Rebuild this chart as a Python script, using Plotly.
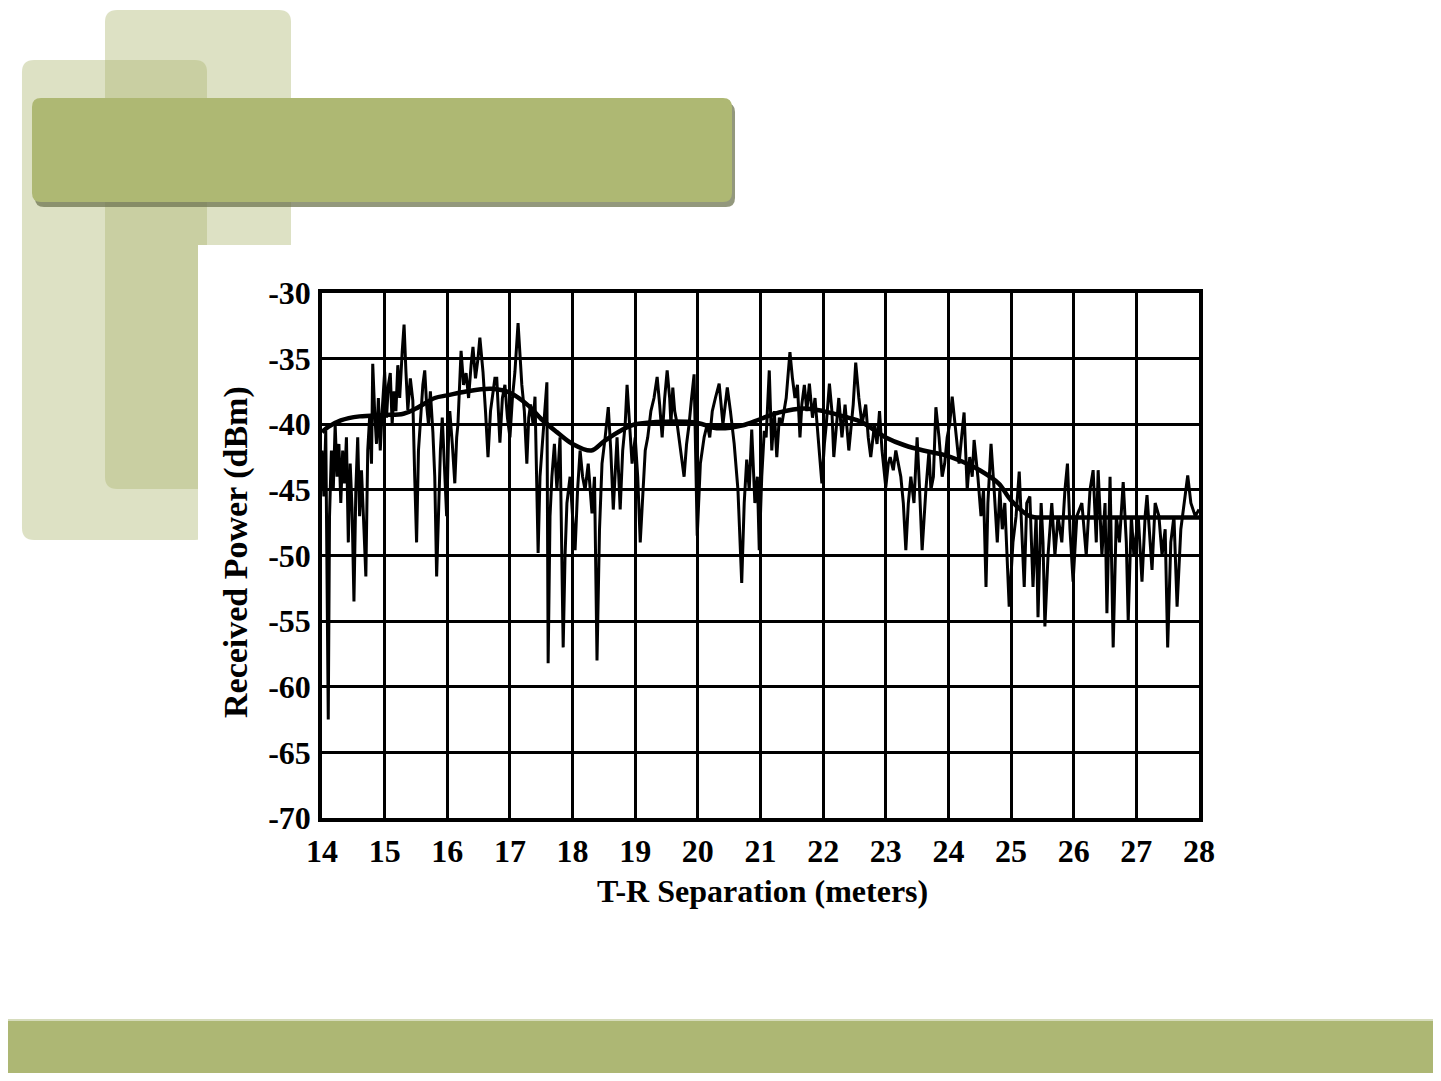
import plotly.graph_objects as go

# ---------------- data ----------------
sep_m = [
    14.00, 14.03, 14.06, 14.08, 14.10, 14.12, 14.15, 14.18, 14.21, 14.24, 14.27, 14.30, 14.33, 14.36, 14.39,
    14.42, 14.45, 14.48, 14.51, 14.54, 14.57, 14.60, 14.63, 14.67, 14.70, 14.73, 14.76, 14.79, 14.81, 14.84,
    14.87, 14.90, 14.93, 14.96, 15.00, 15.03, 15.06, 15.09, 15.12, 15.15, 15.18, 15.21, 15.24, 15.28, 15.31,
    15.34, 15.37, 15.41, 15.45, 15.48, 15.51, 15.54, 15.58, 15.61, 15.64, 15.67, 15.70, 15.73, 15.77, 15.80,
    15.83, 15.86, 15.89, 15.92, 15.96, 15.99, 16.02, 16.04, 16.08, 16.12, 16.15, 16.17, 16.22, 16.26, 16.30,
    16.34, 16.38, 16.41, 16.45, 16.49, 16.52, 16.57, 16.61, 16.65, 16.69, 16.73, 16.76, 16.79,
    16.84, 16.88, 16.92, 16.96, 17.00, 17.04, 17.08, 17.13, 17.16, 17.19, 17.23, 17.27, 17.30, 17.33, 17.37,
    17.40, 17.45, 17.48, 17.51, 17.55, 17.59, 17.61, 17.64, 17.67, 17.71, 17.75, 17.80, 17.85, 17.88, 17.91,
    17.96, 18.00, 18.04, 18.08, 18.12, 18.16, 18.20, 18.25, 18.31, 18.35, 18.39, 18.43, 18.47, 18.52, 18.57,
    18.61, 18.65, 18.71, 18.76, 18.80, 18.84, 18.87, 18.91, 18.95, 19.00, 19.04, 19.08, 19.12, 19.16, 19.20,
    19.25, 19.30, 19.35, 19.39, 19.43, 19.47, 19.51, 19.55, 19.57, 19.60,
    19.63, 19.67, 19.72, 19.78, 19.82, 19.86, 19.90, 19.94, 19.99, 20.04, 20.10, 20.15, 20.19, 20.23, 20.28,
    20.34, 20.40, 20.44, 20.47, 20.52, 20.58, 20.64, 20.70, 20.74, 20.78, 20.82, 20.86, 20.91, 20.95, 20.98,
    21.02, 21.06, 21.09, 21.14, 21.18, 21.22, 21.26, 21.30, 21.34, 21.41, 21.47, 21.51, 21.55, 21.59, 21.63,
    21.66, 21.70, 21.74, 21.78, 21.83, 21.87, 21.92, 21.98, 22.02, 22.05, 22.10, 22.14, 22.17, 22.21, 22.25,
    22.30, 22.35, 22.41, 22.45,
    22.48, 22.52, 22.57, 22.62, 22.68, 22.72, 22.76, 22.82, 22.86, 22.90, 22.94, 23.00, 23.04, 23.07, 23.12,
    23.16, 23.20, 23.24, 23.28, 23.32, 23.36, 23.40, 23.45, 23.50, 23.54, 23.58, 23.64, 23.69, 23.72, 23.76,
    23.80, 23.85, 23.90, 23.94, 23.98, 24.02, 24.06, 24.11, 24.17, 24.21, 24.25, 24.30, 24.34, 24.38, 24.41,
    24.47, 24.52, 24.56, 24.60, 24.63, 24.68, 24.73, 24.78, 24.82, 24.86, 24.90, 24.94, 24.97, 25.03, 25.08,
    25.13, 25.17, 25.21,
    25.25, 25.30, 25.35, 25.40, 25.43, 25.48, 25.51, 25.54, 25.59, 25.65, 25.70, 25.75, 25.81, 25.86, 25.90,
    25.94, 25.99, 26.05, 26.13, 26.20, 26.26, 26.31, 26.36, 26.39, 26.45, 26.50, 26.53, 26.58, 26.63, 26.68,
    26.73, 26.79, 26.84, 26.87, 26.92, 26.96, 27.03, 27.09, 27.14, 27.17, 27.22, 27.25, 27.30, 27.36, 27.41,
    27.46, 27.50, 27.55, 27.60, 27.65, 27.71, 27.76, 27.82, 27.87, 27.94, 28.00,
]
power_dbm = [
    -42.0, -45.5, -40.5, -56.0, -62.5, -47.0, -42.0, -45.0, -40.0, -44.0, -41.5, -46.0, -42.0, -44.5, -41.0,
    -49.0, -43.0, -46.5, -53.5, -45.0, -41.0, -47.0, -43.5, -48.0, -51.6, -42.0, -39.5, -43.0, -35.4, -39.0,
    -41.5, -38.0, -42.0, -39.0, -36.0, -39.5, -37.0, -36.1, -40.0, -37.5, -39.0, -35.5, -38.0, -34.5, -32.4,
    -36.0, -38.9, -36.5, -38.2, -44.0, -49.0, -42.0, -39.0, -37.0, -35.9, -38.5, -40.0, -37.5, -40.6, -44.0,
    -51.6, -47.0, -42.0, -39.5, -44.0, -47.0, -41.0, -39.0, -41.5, -44.5, -41.0, -40.0, -34.4, -37.0, -36.1,
    -38.0, -35.5, -34.1, -36.5, -35.0, -33.4, -36.0, -39.0, -42.5, -39.0, -37.5, -36.5, -36.5,
    -41.4, -38.0, -37.0, -39.5, -41.0, -38.0, -36.0, -32.3, -35.0, -37.0, -39.0, -43.0, -39.5, -38.5, -40.0,
    -37.9, -49.8, -44.0, -42.0, -39.0, -36.8, -58.2, -47.0, -44.0, -41.5, -45.0, -41.0, -57.0, -50.0, -46.0,
    -44.0, -47.0, -49.6, -45.0, -42.0, -44.0, -45.0, -43.0, -46.8, -44.0, -58.0, -48.0, -43.0, -41.0, -38.7,
    -42.0, -46.5, -41.0, -46.5, -42.0, -40.0, -37.0, -40.0, -43.0, -41.0, -44.0, -49.0, -45.0, -42.0, -41.0,
    -39.0, -38.0, -36.4, -38.5, -41.0, -38.0, -35.9, -38.0, -40.0, -37.2,
    -39.0, -40.0, -42.0, -44.0, -41.5, -40.0, -38.0, -36.2, -48.5, -43.0, -41.0, -40.0, -41.0, -39.0, -38.0,
    -36.9, -40.0, -38.5, -37.2, -39.0, -41.5, -45.0, -52.1, -46.0, -42.7, -45.0, -40.4, -46.0, -44.0, -49.6,
    -44.0, -40.5, -41.0, -35.9, -42.0, -39.0, -42.5, -39.5, -40.0, -38.0, -34.5, -36.5, -38.0, -37.0, -41.0,
    -38.5, -37.0, -39.0, -36.9, -39.5, -38.0, -41.0, -44.5, -41.5, -40.0, -36.9, -39.0, -42.5, -40.0, -38.0,
    -41.0, -38.5, -42.0, -40.0,
    -38.5, -35.3, -38.0, -40.0, -38.5, -41.0, -42.5, -40.0, -41.5, -39.0, -42.0, -44.8, -43.0, -42.5, -43.5,
    -42.0, -43.0, -44.0, -46.0, -49.6, -46.0, -44.0, -46.0, -41.0, -45.0, -49.6, -45.0, -42.0, -45.0, -44.0,
    -38.7, -41.0, -44.0, -43.0, -41.0, -40.0, -37.9, -40.5, -43.0, -41.0, -39.1, -45.0, -42.5, -44.0, -41.2,
    -44.0, -47.0, -45.0, -52.4, -46.0, -41.5, -45.0, -49.0, -45.0, -48.0, -46.0, -50.0, -53.9, -49.0, -47.0,
    -43.6, -48.0, -52.4,
    -46.0, -45.5, -52.4, -47.0, -54.7, -46.0, -49.0, -55.4, -50.0, -46.0, -50.0, -47.0, -49.0, -45.0, -43.0,
    -48.0, -52.0, -47.0, -46.0, -50.0, -45.0, -43.5, -49.0, -43.5, -50.0, -46.0, -54.4, -44.0, -57.0, -47.0,
    -49.0, -44.4, -49.0, -55.0, -47.0, -50.0, -47.0, -52.0, -47.0, -45.4, -49.0, -51.1, -46.0, -47.0, -50.0,
    -48.0, -57.0, -49.0, -47.0, -53.9, -48.0, -46.0, -43.9, -46.0, -47.0, -46.5,
]

mean_sep_m = [14.0, 14.1, 14.3, 14.6, 15.0, 15.3, 15.5, 15.8, 16.0, 16.3, 16.7, 17.0, 17.3, 17.5, 17.75,
              18.0, 18.3, 18.5, 18.8, 19.0, 19.5, 20.0, 20.3, 20.7, 21.0, 21.3, 21.7, 22.0, 22.4, 22.6,
              23.0, 23.3, 23.6, 23.9, 24.2, 24.5, 24.8, 25.0, 25.3, 25.6, 26.0, 27.0, 28.0]
mean_dbm = [-40.6, -40.2, -39.7, -39.4, -39.3, -39.2, -38.8, -38.0, -37.8, -37.5, -37.3, -37.6, -38.6, -39.6, -40.6,
            -41.5, -42.0, -41.3, -40.4, -40.0, -39.8, -39.9, -40.3, -40.1, -39.6, -39.1, -38.8, -39.0, -39.5, -39.8,
            -41.0, -41.6, -42.0, -42.3, -42.8, -43.5, -44.5, -45.8, -47.0, -47.1, -47.1, -47.1, -47.1]

x_ticks = list(range(14, 29))
y_ticks = list(range(-70, -29, 5))
x_title = "T-R Separation (meters)"
y_title = "Received Power (dBm)"

# ---------------- layout helpers ----------------
# the page body keeps an 8 px margin, so the figure is sized to fit the window
OFF = 8
W, H = 1441 - 2 * OFF, 1081 - 2 * OFF
GREEN = "#aeb873"


def px(x):
    return (x - OFF) / W


def py(y):
    return 1 - (y - OFF) / H


def rrect(x0, y0, x1, y1, r):
    """Rounded-rectangle SVG path in paper coordinates (input in window pixels)."""
    pts = [
        ("M", (x0 + r, y0)), ("L", (x1 - r, y0)), ("Q", (x1, y0), (x1, y0 + r)),
        ("L", (x1, y1 - r)), ("Q", (x1, y1), (x1 - r, y1)),
        ("L", (x0 + r, y1)), ("Q", (x0, y1), (x0, y1 - r)),
        ("L", (x0, y0 + r)), ("Q", (x0, y0), (x0 + r, y0)),
    ]
    s = ""
    for item in pts:
        cmd = item[0]
        coords = " ".join(f"{px(a):.5f},{py(b):.5f}" for a, b in item[1:])
        s += f"{cmd} {coords} "
    return s + "Z"


shapes = [
    dict(type="path", xref="paper", yref="paper", path=rrect(105, 10, 291, 489, 12),
         fillcolor=GREEN, opacity=0.42, line=dict(width=0), layer="below"),
    dict(type="path", xref="paper", yref="paper", path=rrect(22, 60, 207, 540, 12),
         fillcolor=GREEN, opacity=0.42, line=dict(width=0), layer="below"),
    # white picture area of the scanned chart
    dict(type="rect", xref="paper", yref="paper", x0=px(198), x1=px(1260), y0=py(960), y1=py(245),
         fillcolor="white", line=dict(width=0), layer="below"),
    # title bar shadow + bar
    dict(type="path", xref="paper", yref="paper", path=rrect(35, 103, 735, 207, 9),
         fillcolor="#6f7552", opacity=0.75, line=dict(width=0), layer="below"),
    dict(type="path", xref="paper", yref="paper", path=rrect(32, 98, 732, 202, 9),
         fillcolor=GREEN, line=dict(width=0), layer="below"),
    # bottom band
    dict(type="rect", xref="paper", yref="paper", x0=0, x1=1, y0=0, y1=py(1020),
         fillcolor="#adb774", line=dict(width=0), layer="below"),
    dict(type="line", xref="paper", yref="paper", x0=0, x1=1, y0=py(1020), y1=py(1020),
         line=dict(color="#d6dcbc", width=2), layer="below"),
]

fig = go.Figure()
fig.add_trace(go.Scatter(x=sep_m, y=power_dbm, mode="lines",
                         line=dict(color="black", width=3), showlegend=False, hoverinfo="x+y"))
fig.add_trace(go.Scatter(x=mean_sep_m, y=mean_dbm, mode="lines", line_shape="spline",
                         line=dict(color="black", width=4.5), showlegend=False, hoverinfo="x+y"))

tickfont = dict(family="Liberation Serif", size=32, color="black", weight="bold")

fig.update_layout(
    width=W, height=H,
    margin=dict(l=0, r=0, t=0, b=0, autoexpand=False),
    paper_bgcolor="white", plot_bgcolor="white",
    shapes=shapes,
    xaxis=dict(domain=[px(322), px(1199)], range=[14, 28], tickvals=x_ticks,
               ticktext=[str(v) for v in x_ticks], automargin=False,
               showgrid=True, gridcolor="black", gridwidth=3, zeroline=False,
               showline=True, linecolor="black", linewidth=3.5, mirror=True,
               ticks="", tickfont=tickfont, ticklabelstandoff=2, fixedrange=True),
    yaxis=dict(domain=[py(818), py(293)], range=[-70, -30], tickvals=y_ticks,
               ticktext=[str(v) for v in y_ticks], automargin=False,
               showgrid=True, gridcolor="black", gridwidth=3, zeroline=False,
               showline=True, linecolor="black", linewidth=3.5, mirror=True,
               ticks="", tickfont=tickfont, ticklabelstandoff=1, fixedrange=True),
    annotations=[
        dict(text=f"<b>{x_title}</b>", xref="paper", yref="paper", x=px(762), y=py(891),
             xanchor="center", yanchor="middle", showarrow=False,
             font=dict(family="Liberation Serif", size=32, color="black")),
        dict(text=f"<b>{y_title}</b>", xref="paper", yref="paper", x=px(236), y=py(552),
             xanchor="center", yanchor="middle", showarrow=False, textangle=-90,
             font=dict(family="Liberation Serif", size=34, color="black")),
    ],
)

fig.write_html("out.html")
